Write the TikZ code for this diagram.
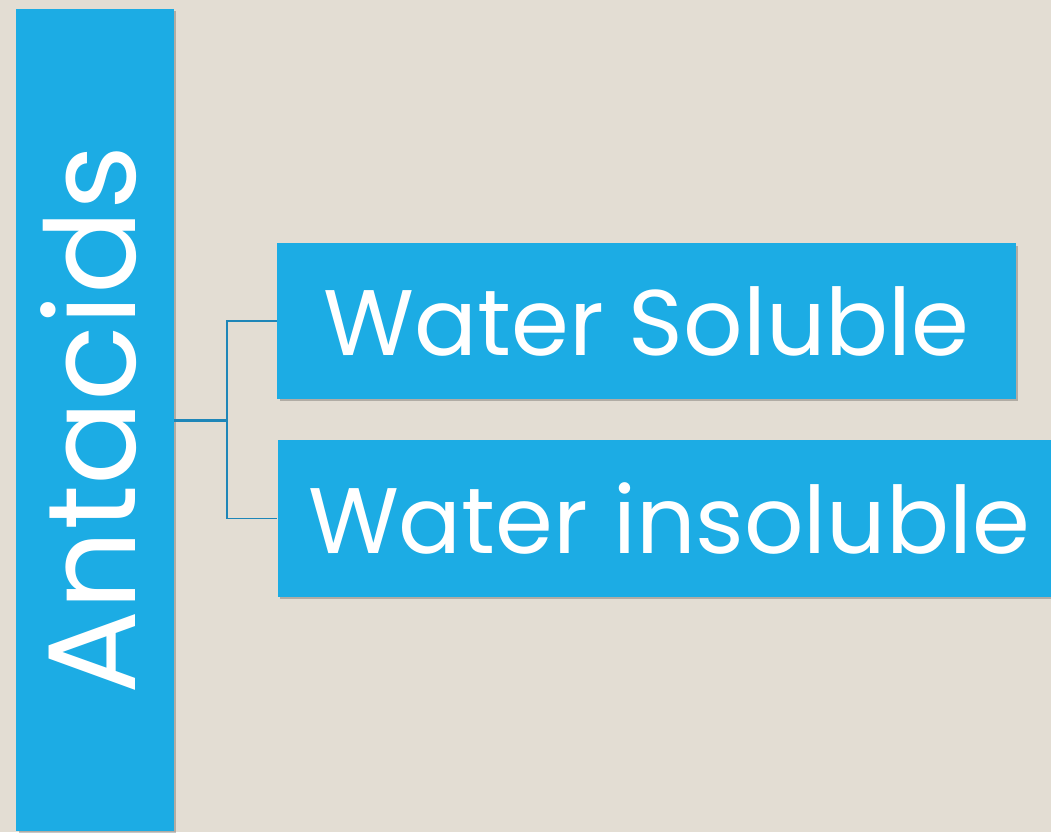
\documentclass[tikz,border=0pt]{standalone}
\usepackage{fontspec}
\setmainfont{Poppins}
\usetikzlibrary{shadows, positioning}

\definecolor{paper}{HTML}{E3DDD3}
\definecolor{tileblue}{HTML}{1CACE4}
\definecolor{linkblue}{HTML}{1E86B8}

\begin{document}
\begin{tikzpicture}[
    x=0.02cm, y=-0.02cm,
    tile/.style={rectangle, fill=tileblue, text=white, inner sep=0pt, anchor=center,
      drop shadow={fill=black, opacity=0.22, shadow xshift=1.4pt, shadow yshift=-1.4pt}},
    link/.style={draw=linkblue, line width=1.1pt}
  ]

  % ---- Fondo ----
  \fill[paper] (0,0) rectangle (1051,832);
  \useasboundingbox (0,0) rectangle (1051,832);
  \clip (0,0) rectangle (1051,832);

  % ---- Barra vertical ----
  \node[tile, minimum width=89.6pt, minimum height=468.3pt] (bar) at (95,420) {};
  \node[text=white] (title) at (89,420)
    {\rotatebox{90}{\fontsize{71}{71}\selectfont Antacids}};

  % ---- Cajas ----
  \node[tile, minimum width=420.1pt, minimum height=88.4pt] (ws) at (646.5,321)
    {\fontsize{53}{53}\selectfont Water Soluble};
  \node[tile, minimum width=445.6pt, minimum height=89pt] (wi) at (669,518.5)
    {\fontsize{53}{53}\selectfont Water insoluble};

  % Conectores
  \coordinate (j) at (227,420);
  \draw[link, line width=1.7pt] (bar.east) -- (j);
  \draw[link] (j) |- (ws.west);
  \draw[link] (j) |- (wi.west);
\end{tikzpicture}
\end{document}
